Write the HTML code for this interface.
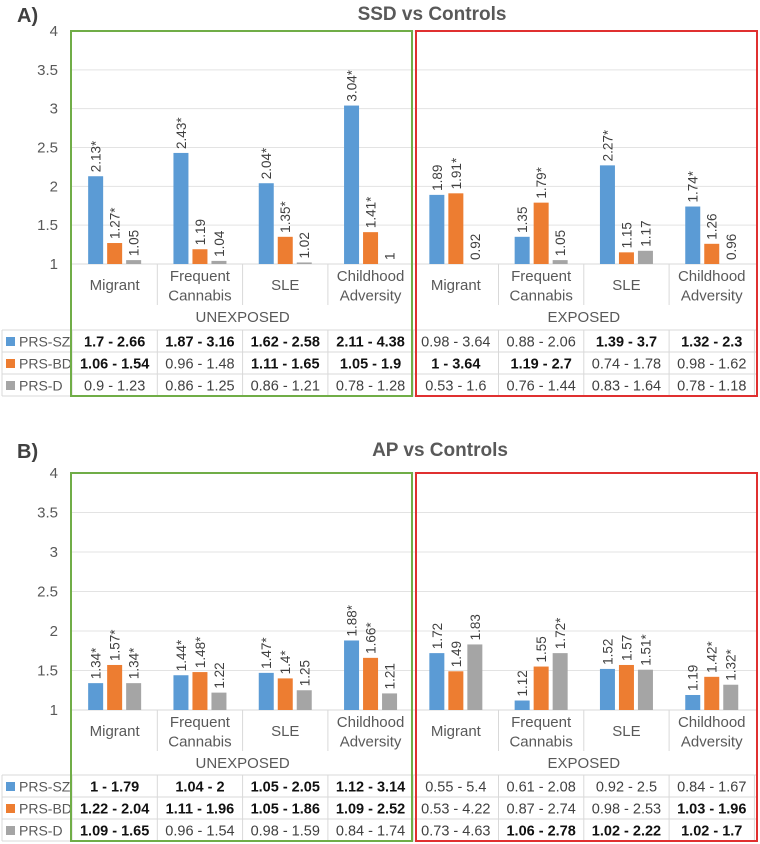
<!DOCTYPE html>
<html><head><meta charset="utf-8">
<style>
html,body{margin:0;padding:0;background:#fff;}
svg{display:block;font-family:"Liberation Sans",sans-serif;}
</style></head>
<body>
<svg id="chart" width="760" height="844" viewBox="0 0 760 844" xmlns="http://www.w3.org/2000/svg"></svg>
<script>
const categories = ["Migrant", "Frequent|Cannabis", "SLE", "Childhood|Adversity"];
const groups = ["UNEXPOSED", "EXPOSED"];
const seriesNames = ["PRS-SZ", "PRS-BD", "PRS-D"];
const colors = ["#5b9bd5", "#ed7d31", "#a5a5a5"];
const yTicks = [1, 1.5, 2, 2.5, 3, 3.5, 4];
// Panel A: SSD vs Controls (8 categories: 4 unexposed, 4 exposed)
const aSZ = [2.13, 2.43, 2.04, 3.04, 1.89, 1.35, 2.27, 1.74];
const aBD = [1.27, 1.19, 1.35, 1.41, 1.91, 1.79, 1.15, 1.26];
const aD  = [1.05, 1.04, 1.02, 1.00, 0.92, 1.05, 1.17, 0.96];
const aCI_SZ = ["1.7 - 2.66","1.87 - 3.16","1.62 - 2.58","2.11 - 4.38","0.98 - 3.64","0.88 - 2.06","1.39 - 3.7","1.32 - 2.3"];
const aCI_BD = ["1.06 - 1.54","0.96 - 1.48","1.11 - 1.65","1.05 - 1.9","1 - 3.64","1.19 - 2.7","0.74 - 1.78","0.98 - 1.62"];
const aCI_D  = ["0.9 - 1.23","0.86 - 1.25","0.86 - 1.21","0.78 - 1.28","0.53 - 1.6","0.76 - 1.44","0.83 - 1.64","0.78 - 1.18"];
// Panel B: AP vs Controls
const bSZ = [1.34, 1.44, 1.47, 1.88, 1.72, 1.12, 1.52, 1.19];
const bBD = [1.57, 1.48, 1.40, 1.66, 1.49, 1.55, 1.57, 1.42];
const bD  = [1.34, 1.22, 1.25, 1.21, 1.83, 1.72, 1.51, 1.32];
const bCI_SZ = ["1 - 1.79","1.04 - 2","1.05 - 2.05","1.12 - 3.14","0.55 - 5.4","0.61 - 2.08","0.92 - 2.5","0.84 - 1.67"];
const bCI_BD = ["1.22 - 2.04","1.11 - 1.96","1.05 - 1.86","1.09 - 2.52","0.53 - 4.22","0.87 - 2.74","0.98 - 2.53","1.03 - 1.96"];
const bCI_D  = ["1.09 - 1.65","0.96 - 1.54","0.98 - 1.59","0.84 - 1.74","0.73 - 4.63","1.06 - 2.78","1.02 - 2.22","1.02 - 1.7"];

const NS = "http://www.w3.org/2000/svg";
const svg = document.getElementById("chart");
function mk(tag, attrs, parent, text){
  const e = document.createElementNS(NS, tag);
  for (const k in attrs) e.setAttribute(k, attrs[k]);
  if (text !== undefined) e.textContent = text;
  (parent || svg).appendChild(e);
  return e;
}
const X0 = 72, CW = 85.3;
function catCenter(i){ return X0 + CW * (i + 0.5); }
function fmt(v){ return String(v); }

function panel(opt){
  const g = mk("g", {});
  
  
  const yS = v => opt.base - (v - 1) * (opt.base - opt.top) / 3;
  const lt = mk("text", {x:17, y:opt.titleY+2, "font-size":20, "font-weight":"bold", fill:"#404040"}, g, opt.letter);
  
  
  const tt = mk("text", {x:opt.titleX, y:opt.titleY, "font-size":19, "font-weight":"bold", fill:"#595959", "text-anchor":"middle"}, g, opt.title);
  
  
  yTicks.forEach(t => {
    const y = yS(t);
    if (t > 1) {
      const gl = mk("line", {x1:X0, x2:757, y1:y, y2:y, stroke:"#e3e3e3", "stroke-width":1}, g);
      
      
    }
    const tl = mk("text", {x:58, y:y+5, "font-size":15, fill:"#595959", "text-anchor":"end"}, g, fmt(t));
    
    
  });
  const ax = mk("line", {x1:X0, x2:757, y1:opt.base, y2:opt.base, stroke:"#d9d9d9", "stroke-width":1}, g);
  
  
  for (let i = 0; i <= 8; i++) {
    const x = X0 + CW * i;
    if (i === 0 || i === 4 || i === 8) continue;
    const sl = mk("line", {x1:x, x2:x, y1:opt.base, y2:opt.base + 41, stroke:"#d9d9d9"}, g);
    
    
  }
  const series = [opt.sz, opt.bd, opt.d];
  const cis = [opt.ciSZ, opt.ciBD, opt.ciD];
  series.forEach((vals, k) => {
    vals.forEach((v, i) => {
      const cx = catCenter(i) + (k - 1) * 19;
      const lower = parseFloat(cis[k][i].split(" - ")[0]);
      const sig = lower >= 1;
      const yTop = yS(Math.max(v, 1));
      if (v > 1) {
        const r = mk("rect", {x:cx - 7.5, y:yTop, width:15, height:opt.base - yTop, fill:colors[k]}, g);
        
        
      }
      const lx = cx + 5, ly = yTop - 4;
      const vl = mk("text", {x:lx, y:ly, "font-size":13.5, fill:"#404040", transform:`rotate(-90 ${lx} ${ly})`}, g, fmt(v) + (sig ? "*" : ""));
      
      
    });
  });
  for (let i = 0; i < 8; i++) {
    const parts = categories[i % 4].split("|");
    const cx = catCenter(i);
    if (parts.length === 1) {
      const c = mk("text", {x:cx, y:opt.base + 26, "font-size":15, fill:"#595959", "text-anchor":"middle"}, g, parts[0]);
      
      
    } else {
      parts.forEach((p, j) => {
        const c = mk("text", {x:cx, y:opt.base + 17 + j * 19.5, "font-size":15, fill:"#595959", "text-anchor":"middle"}, g, p);
        
        
      });
    }
  }
  groups.forEach((gname, j) => {
    const gl = mk("text", {x:X0 + CW * (2 + 4 * j), y:opt.base + 58, "font-size":15, fill:"#595959", "text-anchor":"middle"}, g, gname);
    
    
  });
  const t0 = opt.tableTop, rh = 22;
  for (let r = 0; r <= 3; r++) {
    const hl = mk("line", {x1:2, x2:757, y1:t0 + r * rh, y2:t0 + r * rh, stroke:"#d9d9d9"}, g);
    
    
  }
  for (let i = 0; i <= 8; i++) {
    const x = X0 + CW * i;
    const vl = mk("line", {x1:x, x2:x, y1:t0, y2:t0 + 3 * rh, stroke:"#d9d9d9"}, g);
    
    
  }
  const lv = mk("line", {x1:2, x2:2, y1:t0, y2:t0 + 3 * rh, stroke:"#d9d9d9"}, g);
  
  
  seriesNames.forEach((sn, k) => {
    const y = t0 + k * rh;
    const sq = mk("rect", {x:6, y:y + 7, width:9, height:9, fill:colors[k]}, g);
    
    
    const lt2 = mk("text", {x:19, y:y + 16.5, "font-size":14, fill:"#595959"}, g, sn);
    
    
    cis[k].forEach((ci, i) => {
      const lower = parseFloat(ci.split(" - ")[0]);
      const c = mk("text", {x:catCenter(i), y:y + 16.5, "font-size":14.5, fill:lower >= 1 ? "#111" : "#404040", "font-weight":lower >= 1 ? "bold" : "normal", "text-anchor":"middle"}, g, ci);
      
      
    });
  });
  const bottom = t0 + 3 * rh;
  const gb = mk("rect", {x:71, y:opt.top, width:341, height:bottom - opt.top, fill:"none", stroke:"#70ad47", "stroke-width":2}, g);
  
  
  const rb = mk("rect", {x:416, y:opt.top, width:341, height:bottom - opt.top, fill:"none", stroke:"#e03030", "stroke-width":2}, g);
  
  
}

panel({name:"panel-a", letter:"A)", title:"SSD vs Controls", titleX:432, titleY:20, top:31, base:264, tableTop:330,
  sz:aSZ, bd:aBD, d:aD, ciSZ:aCI_SZ, ciBD:aCI_BD, ciD:aCI_D});
panel({name:"panel-b", letter:"B)", title:"AP vs Controls", titleX:440, titleY:456, top:473, base:710, tableTop:775,
  sz:bSZ, bd:bBD, d:bD, ciSZ:bCI_SZ, ciBD:bCI_BD, ciD:bCI_D});
</script>
</body></html>
